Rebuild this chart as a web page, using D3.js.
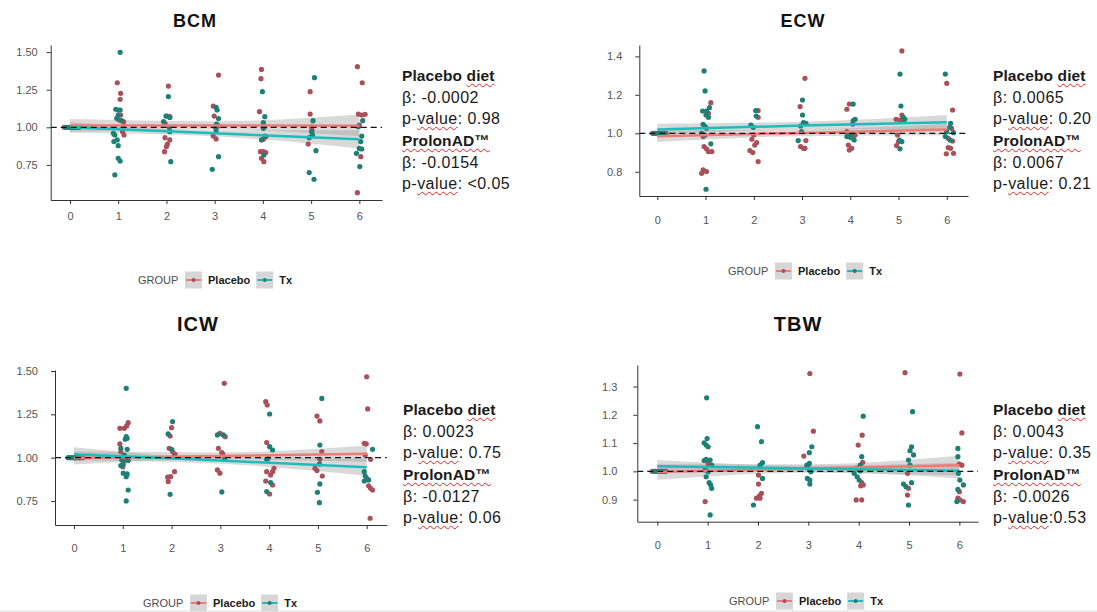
<!DOCTYPE html>
<html>
<head>
<meta charset="utf-8">
<title>BCM / ECW / ICW / TBW</title>
<script src="https://cdn.jsdelivr.net/npm/d3@7"></script>
<style>
  body {
    margin: 0;
    width: 1097px;
    height: 612px;
    position: relative;
    overflow: hidden;
    background: #fff;
    font-family: "Liberation Sans", Arial, sans-serif;
  }
  svg { position: absolute; left: 0; top: 0; }
  .note {
    position: absolute;
    font-size: 16px;
    letter-spacing: 0.45px;
    line-height: 21.7px;
    color: #1a1a1a;
    white-space: nowrap;
  }
  .note b { font-size: 15.5px; letter-spacing: 0.1px; }
  .sq {
    text-decoration: underline wavy #e02424;
    text-decoration-thickness: 1px;
    text-underline-offset: 2px;
  }
  .axis text { fill: #555; font-size: 11px; font-family: "Liberation Sans", Arial, sans-serif; }
  .axis path, .axis line { stroke: #333; stroke-width: 1; }
</style>
</head>
<body>
<svg id="chart" width="1097" height="612"></svg>
<script>
  // ---- data: [week (with jitter), ratio to baseline] ----
  var weeks = [0, 1, 2, 3, 4, 5, 6];

  var bcmPlacebo = [[-0.12,1],[-0.04,1],[0.04,1],[0.1,1],[0.16,1],
    [0.98,1.296],[1.05,1.226],[1.04,1.186],[1.05,1.082],[1.02,1.049],[1.11,1.038],[1.12,1.009],[1.09,0.971],[1.12,0.949],
    [2.04,1.274],[2.02,1.075],[2.07,1.071],[1.97,1.027],[1.97,0.931],[2.07,0.916],[2.02,0.889],[2.0,0.872],[1.96,0.838],
    [3.08,1.347],[2.97,1.141],[2.99,1.075],[3.08,1.009],[2.97,0.942],[3.03,0.923],
    [3.97,1.385],[3.96,1.323],[3.93,1.104],[4.04,1.004],[4.06,0.938],[4.01,0.92],[3.95,0.838],[4.01,0.838],[4.06,0.832],[3.97,0.794],[4.02,0.772],
    [4.98,1.237],[4.98,1.088],[5.01,1.004],[5.02,0.982],[4.94,0.889],
    [5.96,1.403],[6.06,1.296],[5.98,1.088],[6.05,1.082],[6.12,1.086],[6.0,1.015],[6.03,0.805],[5.96,0.566]];
  var bcmTx = [[-0.08,1],[0.0,1],[0.07,1],[0.13,1],[0.19,1],
    [1.04,1.498],[0.95,1.12],[1.0,1.115],[1.04,1.115],[1.0,1.082],[0.97,1.06],[1.07,1.044],[0.9,0.96],[0.93,0.949],[0.98,0.916],[0.91,0.905],[1.0,0.878],[1.0,0.794],[1.04,0.776],[0.93,0.684],
    [2.04,1.204],[1.99,1.075],[2.07,1.066],[1.94,1.038],[2.06,0.998],[2.07,0.971],[2.09,0.772],
    [3.03,1.133],[3.05,1.115],[3.08,1.058],[3.04,1.022],[3.01,1.004],[3.03,0.982],[3.08,0.805],[2.95,0.721],
    [3.99,1.237],[4.04,1.071],[4.01,1.031],[4.01,0.993],[4.04,0.942],[3.97,0.916],[4.02,0.816],
    [5.07,1.33],[5.04,1.044],[5.01,0.971],[5.03,0.949],[4.96,0.931],[5.1,0.845],[4.96,0.699],[5.06,0.655],
    [6.07,1.044],[5.98,1.004],[6.05,0.942],[6.03,0.905],[6.0,0.86],[6.05,0.856],[5.94,0.827],[6.01,0.739]];

  var ecwPlacebo = [[-0.1,1],[-0.02,1],[0.05,1],[0.12,1],[0.18,1],
    [1.11,1.159],[1.06,1.104],[1.02,1.026],[0.95,0.983],[0.97,0.931],[1.02,0.919],[1.06,0.905],[1.13,0.905],[0.95,0.81],[1.02,0.801],[0.92,0.792],
    [2.09,1.118],[2.09,1.083],[2.0,0.991],[1.96,0.969],[2.06,0.952],[2.02,0.939],[1.92,0.91],[1.98,0.9],[2.09,0.853],
    [3.06,1.286],[2.96,1.139],[2.97,0.931],[3.03,0.922],[3.06,0.922],[3.08,0.962],
    [3.98,1.152],[3.93,1.125],[3.93,1.009],[4.1,0.991],[4.06,0.974],[3.96,0.939],[4.03,0.922],[3.98,0.913],
    [5.07,1.428],[5.07,1.095],[5.03,1.069],[5.09,1.066],[4.95,1.073],[4.98,0.991],[5.0,0.957],[4.96,0.936],
    [6.0,1.26],[6.12,1.121],[6.1,1.026],[6.03,0.974],[6.12,0.96],[6.03,0.926],[6.08,0.922],[5.99,0.893],[6.14,0.896]];
  var ecwTx = [[-0.06,1],[0.02,1],[0.08,1],[0.14,1],
    [0.97,1.324],[0.99,1.22],[1.08,1.133],[1.02,1.116],[0.94,1.116],[1.06,1.083],[1.01,1.095],[0.95,1.047],[0.99,1.035],[0.92,1.0],[0.99,0.991],[1.11,0.945],[1.01,0.709],
    [2.04,1.118],[2.05,1.09],[1.94,1.043],[1.99,1.031],
    [3.01,1.173],[3.01,1.095],[3.03,1.055],[2.97,1.038],[3.08,1.052],[2.99,1.009],[2.92,0.962],
    [4.06,1.152],[4.1,1.073],[4.06,1.066],[4.05,1.048],[3.96,0.991],[4.03,1.0],[3.93,0.983],[4.0,0.979],[4.08,0.965],
    [5.03,1.308],[5.05,1.142],[5.1,1.083],[5.13,1.073],[5.02,0.965],[5.07,0.957],[5.03,0.919],
    [5.97,1.308],[6.08,1.052],[6.06,1.031],[6.0,1.009],[6.14,1.003],[5.97,0.983],[6.07,0.965]];

  var icwPlacebo = [[-0.08,1],[0.0,1],[0.06,1],[0.12,1],[0.18,1],
    [1.11,1.202],[1.08,1.183],[1.03,1.169],[0.94,1.169],[0.94,1.079],[0.96,1.035],[1.05,0.987],[1.0,0.948],
    [2.0,1.173],[1.97,1.125],[1.95,1.054],[2.02,1.035],[2.07,1.021],[2.06,0.919],[1.92,0.887],[1.98,0.89],[1.93,0.862],
    [3.08,1.429],[2.99,1.14],[3.1,1.121],[2.96,1.054],[3.03,1.029],[3.05,1.021],[2.94,0.929],[2.99,0.91],
    [3.93,1.323],[3.96,1.304],[3.95,1.087],[3.98,0.996],[4.1,0.938],[4.07,0.919],[4.03,0.9],[3.95,0.919],[4.07,0.842],[3.93,0.865],[4.01,0.79],
    [4.98,1.24],[5.04,1.212],[5.08,1.035],[5.04,0.99],[4.94,0.938],[4.98,0.925],[5.09,0.894],
    [6.0,1.467],[6.02,1.281],[5.95,1.083],[5.99,1.079],[5.97,1.015],[6.08,0.99],[6.0,0.881],[6.04,0.837],[6.08,0.823],[6.12,0.813],[6.07,0.65]];
  var icwTx = [[-0.12,1],[-0.04,1],[0.03,1],[0.1,1],
    [1.07,1.4],[1.07,1.121],[1.05,1.106],[1.09,1.112],[0.96,1.054],[1.09,1.048],[1.03,1.015],[0.98,0.987],[1.11,0.983],[1.01,0.963],[0.96,0.954],[1.01,0.91],[1.07,0.89],[1.09,0.906],[1.11,0.813],[1.07,0.75],
    [2.02,1.208],[1.93,1.137],[2.0,1.048],[2.05,1.006],[1.97,0.788],
    [2.94,1.131],[3.06,1.131],[3.08,0.99],[3.03,0.802],
    [4.01,1.252],[4.01,1.063],[4.07,1.044],[3.95,0.99],[4.03,0.856],[3.95,0.804],
    [5.08,1.342],[5.04,1.073],[5.03,0.963],[5.04,0.848],[4.99,0.8],[5.03,0.74],
    [6.12,1.048],[5.95,0.919],[5.97,0.894],[6.04,0.871],[5.95,0.865]];

  var tbwPlacebo = [[-0.1,1],[-0.03,1],[0.04,1],[0.11,1],[0.17,1],
    [1.01,1.028],[0.95,0.893],
    [2.01,0.987],[2.01,0.955],[2.07,0.922],[2.03,0.913],[1.97,0.905],[2.04,0.905],
    [3.03,1.346],[3.1,1.142],[2.91,1.054],
    [4.07,1.128],[3.99,1.093],[4.08,1.032],[4.06,0.96],[4.09,0.952],[4.04,0.949],[3.95,0.899],[4.06,0.899],
    [4.92,1.349],[4.97,0.993],[4.99,0.94],[4.97,0.916],
    [6.01,1.344],[6.05,1.136],[6.0,1.026],[6.05,1.022],[6.0,0.928],[5.97,0.905],[6.01,0.899],[6.08,0.893]];
  var tbwTx = [[-0.06,1],[0.01,1],[0.08,1],[0.15,1],
    [0.98,1.26],[0.99,1.116],[0.93,1.101],[0.97,1.093],[1.01,1.087],[0.93,1.038],[0.97,1.042],[1.05,1.04],[1.08,1.022],[0.95,1.005],[1.01,0.999],[0.97,0.981],[1.03,0.96],[1.06,0.952],[1.08,0.94],[1.05,0.846],
    [1.99,1.158],[2.07,1.105],[2.09,1.031],[2.04,1.022],[2.09,0.975],[1.91,0.881],
    [3.07,1.087],[3.02,1.066],[3.02,1.028],[2.97,1.022],[3.0,1.011],[3.05,0.999],[2.98,0.975],[3.03,0.969],[3.03,0.955],
    [4.09,1.195],[4.06,1.052],[4.03,1.022],[3.96,1.011],[4.03,1.002],[3.91,0.993],[3.97,0.981],[4.01,0.969],
    [5.07,1.211],[5.05,1.087],[5.02,1.073],[5.09,1.058],[4.99,1.04],[5.02,1.022],[4.89,0.955],[4.94,0.946],[4.99,0.881],[5.05,0.96],
    [5.97,1.081],[5.97,1.052],[5.98,0.993],[6.01,0.969],[6.08,0.952],[5.97,0.936],[5.95,0.893]];

  // fitted line and its band: [week, fit, lower, upper]
  var bcmFitPlacebo = [[0,1.012,0.97,1.055],[3,1.012,0.985,1.04],[6,1.01,0.94,1.085]];
  var bcmFitTx      = [[0,1.0,0.965,1.035],[3,0.96,0.94,0.98],[6,0.92,0.86,0.98]];
  var ecwFitPlacebo = [[0,0.985,0.955,1.015],[3,1.002,0.985,1.02],[6,1.02,0.99,1.05]];
  var ecwFitTx      = [[0,1.02,0.99,1.05],[3,1.04,1.02,1.06],[6,1.058,1.02,1.095]];
  var icwFitPlacebo = [[0,0.998,0.96,1.035],[3,1.01,0.99,1.03],[6,1.022,0.975,1.07]];
  var icwFitTx      = [[0,1.02,0.985,1.06],[3,0.983,0.965,1.0],[6,0.945,0.895,0.995]];
  var tbwFitPlacebo = [[0,0.998,0.97,1.025],[3,1.01,0.995,1.025],[6,1.022,0.985,1.055]];
  var tbwFitTx      = [[0,1.018,0.995,1.04],[3,1.01,0.998,1.02],[6,1.002,0.975,1.03]];

  var bcmTicks = [0.75, 1.00, 1.25, 1.50];
  var ecwTicks = [0.8, 1.0, 1.2, 1.4];
  var icwTicks = [0.75, 1.00, 1.25, 1.50];
  var tbwTicks = [0.9, 1.0, 1.1, 1.2, 1.3];

  // [placebo beta, placebo p, ProlonAD beta, ProlonAD p]
  var bcmStats = ["-0.0002", ": 0.98", "-0.0154", ": <0.05"];
  var ecwStats = ["0.0065", ": 0.20", "0.0067", ": 0.21"];
  var icwStats = ["0.0023", ": 0.75", "-0.0127", ": 0.06"];
  var tbwStats = ["0.0043", ": 0.35", "-0.0026", ":0.53"];

  var groups = ["Placebo", "Tx"];
  var pointCol = { Placebo: "#a9505a", Tx: "#1e7f76" };
  var lineCol  = { Placebo: "#f07a74", Tx: "#1fbcbc" };

  var panels = [
    { title: "BCM", pl: bcmPlacebo, tx: bcmTx, fitP: bcmFitPlacebo, fitT: bcmFitTx, ticks: bcmTicks, fmt: ".2f", stats: bcmStats,
      box: { l: 50.7, r: 382, t: 45, b: 200 }, xDom: [-0.4, 6.47], yDom: [0.517, 1.547],
      titleX: 195, titleY: 27, titleSize: 18, xPad: 8, yPad: 9, leg: { x: 138, y: 280 }, note: { x: 402, y: 64.8 } },
    { title: "ECW", pl: ecwPlacebo, tx: ecwTx, fitP: ecwFitPlacebo, fitT: ecwFitTx, ticks: ecwTicks, fmt: ".1f", stats: ecwStats,
      box: { l: 639.3, r: 968, t: 45, b: 196 }, xDom: [-0.373, 6.44], yDom: [0.674, 1.459],
      titleX: 803, titleY: 27, titleSize: 18, xPad: 16, yPad: 13, leg: { x: 728, y: 271 }, note: { x: 993, y: 64.8 } },
    { title: "ICW", pl: icwPlacebo, tx: icwTx, fitP: icwFitPlacebo, fitT: icwFitTx, ticks: icwTicks, fmt: ".2f", stats: icwStats,
      box: { l: 55, r: 386.7, t: 370, b: 525 }, xDom: [-0.39, 6.41], yDom: [0.611, 1.506],
      titleX: 198, titleY: 331, titleSize: 20, xPad: 15, yPad: 13, leg: { x: 143, y: 603 }, note: { x: 403, y: 398.8 } },
    { title: "TBW", pl: tbwPlacebo, tx: tbwTx, fitP: tbwFitPlacebo, fitT: tbwFitTx, ticks: tbwTicks, fmt: ".1f", stats: tbwStats,
      box: { l: 637.3, r: 978, t: 365, b: 521.7 }, xDom: [-0.397, 6.37], yDom: [0.822, 1.376],
      titleX: 798, titleY: 331, titleSize: 20, xPad: 16, yPad: 16, leg: { x: 729, y: 601 }, note: { x: 993, y: 398.8 } }
  ];

  var svg = d3.select("#chart");

  // thin grey strip at the very bottom of the screenshot
  svg.append("rect").attr("x", 0).attr("y", 610).attr("width", 1097).attr("height", 2).attr("fill", "#eeeeee");

  panels.forEach(drawPanel);

  function drawPanel(p) {
    var x = d3.scaleLinear().domain(p.xDom).range([p.box.l, p.box.r]);
    var y = d3.scaleLinear().domain(p.yDom).range([p.box.b, p.box.t]);
    var g = svg.append("g");

    svg.append("text")
      .attr("x", p.titleX).attr("y", p.titleY)
      .attr("text-anchor", "middle")
      .attr("font-family", "Liberation Sans, Arial, sans-serif")
      .attr("font-weight", "bold")
      .attr("font-size", p.titleSize)
      .attr("letter-spacing", 1)
      .attr("fill", "#111")
      .text(p.title);

    // confidence bands
    var area = d3.area()
      .x(d => x(d[0])).y0(d => y(d[2])).y1(d => y(d[3]))
      .curve(d3.curveMonotoneX);
    [p.fitP, p.fitT].forEach(function(f) {
      g.append("path").attr("d", area(f)).attr("fill", "#9a9a9a").attr("fill-opacity", 0.38);
    });

    // points
    [["Placebo", p.pl], ["Tx", p.tx]].forEach(function(s) {
      g.selectAll(null).data(s[1]).enter().append("circle")
        .attr("cx", d => x(d[0]))
        .attr("cy", d => y(d[1]))
        .attr("r", 2.6)
        .attr("fill", pointCol[s[0]]);
    });

    // fitted lines
    var line = d3.line().x(d => x(d[0])).y(d => y(d[1]));
    g.append("path").attr("d", line(p.fitP)).attr("fill", "none")
      .attr("stroke", lineCol.Placebo).attr("stroke-width", 2.5);
    g.append("path").attr("d", line(p.fitT)).attr("fill", "none")
      .attr("stroke", lineCol.Tx).attr("stroke-width", 2.5);

    // reference line at 1
    g.append("line")
      .attr("x1", p.box.l).attr("x2", p.box.r)
      .attr("y1", y(1)).attr("y2", y(1))
      .attr("stroke", "#111").attr("stroke-width", 1.3)
      .attr("stroke-dasharray", "6,4");

    // axes
    svg.append("g").attr("class", "axis")
      .attr("transform", "translate(0," + p.box.b + ")")
      .call(d3.axisBottom(x).tickValues(weeks).tickFormat(d3.format("d"))
        .tickSize(4).tickSizeOuter(0).tickPadding(p.xPad));
    svg.append("g").attr("class", "axis")
      .attr("transform", "translate(" + p.box.l + ",0)")
      .call(d3.axisLeft(y).tickValues(p.ticks).tickFormat(d3.format(p.fmt))
        .tickSize(4).tickSizeOuter(0).tickPadding(p.yPad));

    drawLegend(p.leg);

    // annotation block
    var s = p.stats;
    d3.select("body").append("div").attr("class", "note")
      .style("left", p.note.x + "px").style("top", p.note.y + "px")
      .html("<b>Placebo <span class='sq'>diet</span></b><br>" +
            "β: " + s[0] + "<br>" +
            "p-<span class='sq'>value</span>" + s[1] + "<br>" +
            "<b><span class='sq'>ProlonAD™</span></b><br>" +
            "β: " + s[2] + "<br>" +
            "p-<span class='sq'>value</span>" + s[3]);
  }

  function drawLegend(l) {
    var lg = svg.append("g").attr("font-family", "Liberation Sans, Arial, sans-serif").attr("font-size", 11);
    lg.append("text").attr("x", l.x).attr("y", l.y + 4).attr("fill", "#4d4d4d").text("GROUP");
    var cx = l.x + 47;
    groups.forEach(function(gname) {
      lg.append("rect").attr("x", cx).attr("y", l.y - 8.5).attr("width", 17).attr("height", 17).attr("fill", "#d6d6d6");
      lg.append("line").attr("x1", cx + 1).attr("x2", cx + 16).attr("y1", l.y).attr("y2", l.y)
        .attr("stroke", lineCol[gname]).attr("stroke-width", 2);
      lg.append("circle").attr("cx", cx + 8.5).attr("cy", l.y).attr("r", 2).attr("fill", pointCol[gname]);
      var lab = lg.append("text").attr("x", cx + 23).attr("y", l.y + 4)
        .attr("font-weight", "bold").attr("fill", "#1a1a1a").text(gname);
      cx = cx + 23 + lab.node().getComputedTextLength() + 6;
    });
  }
</script>
</body>
</html>
